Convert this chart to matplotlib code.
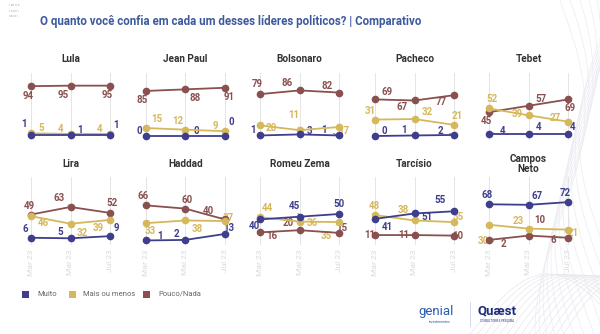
import matplotlib
matplotlib.use("Agg")
import matplotlib.pyplot as plt
import numpy as np

plt.rcParams['font.family'] = ['Roboto', 'DejaVu Sans']

W, H = 600, 334
DPI = 100

periods = ["Mar 23", "Mai 23", "Jul 23"]
series_names = ["Muito", "Mais ou menos", "Pouco/Nada"]
colors = {"Muito": "#3f3e8c", "Mais ou menos": "#d6b85c", "Pouco/Nada": "#8a5050"}

leaders = ["Lula", "Jean Paul", "Bolsonaro", "Pacheco", "Tebet",
           "Lira", "Haddad", "Romeu Zema", "Tarcísio", "Campos\nNeto"]

muito = {
    "Lula": [1, 1, 1], "Jean Paul": [0, 0, 0], "Bolsonaro": [1, 3, 1],
    "Pacheco": [0, 1, 2], "Tebet": [4, 4, 4], "Lira": [6, 5, 9],
    "Haddad": [1, 2, 13], "Romeu Zema": [40, 45, 50], "Tarcísio": [41, 51, 55],
    "Campos\nNeto": [68, 67, 72],
}
mais = {
    "Lula": [5, 4, 4], "Jean Paul": [15, 12, 9], "Bolsonaro": [20, 11, 17],
    "Pacheco": [31, 32, 21], "Tebet": [52, 39, 27], "Lira": [46, 32, 39],
    "Haddad": [33, 38, 37], "Romeu Zema": [44, 36, 35], "Tarcísio": [48, 38, 35],
    "Campos\nNeto": [30, 23, 21],
}
pouco = {
    "Lula": [94, 95, 95], "Jean Paul": [85, 88, 91], "Bolsonaro": [79, 86, 82],
    "Pacheco": [69, 67, 77], "Tebet": [45, 57, 69], "Lira": [49, 63, 52],
    "Haddad": [66, 60, 40], "Romeu Zema": [16, 20, 15], "Tarcísio": [11, 11, 10],
    "Campos\nNeto": [2, 10, 6],
}
data = {"Muito": muito, "Mais ou menos": mais, "Pouco/Nada": pouco}

# label offsets in pixels (dx right, dy down), and whether a leader line is drawn
M, S, P = "Muito", "Mais ou menos", "Pouco/Nada"
label_off = {
    "Lula": {P: [(-3, 10), (-7, 9), (-3, 9)], M: [(-7, -11, 1), (10, -5), (6, -10, 1)],
             S: [(10, -5), (-10, -5), (-10, -5)]},
    "Jean Paul": {P: [(-4, 9), (10, 9, 1), (4, 9)], S: [(11, -9, 1), (-7, -9), (-9, -5)],
                  M: [(-6, -5), (11, -5), (7, -14, 1)]},
    "Bolsonaro": {P: [(-3, -10), (-12, -7), (-12, -7)], S: [(11, 3), (-6, -15, 1), (5, 4)],
                  M: [(-7, -5), (10, -3), (-15, -5, 1)]},
    "Pacheco": {P: [(12, -7), (-12, 7, 1), (-13, 7)], S: [(-5, -9), (13, -7, 1), (3, -9)],
                M: [(9, -5), (-10, -5), (-14, -4, 1)]},
    "Tebet": {P: [(-3, 9), (13, -7), (2, 9)], S: [(3, -9), (-11, -1), (-13, -4)],
              M: [(14, -3, 1), (10, -7), (5, -7)]},
    "Lira": {P: [(-2, -9), (-11, -9, 1), (2, -10)], S: [(12, 7), (12, 9), (-12, 8)],
             M: [(-6, -9), (-10, -6), (6, -8)]},
    "Haddad": {P: [(-3, -9), (2, -9), (-16, -8, 1)], S: [(5, 8), (12, 9), (4, -3)],
               M: [(14, -4, 1), (-9, -6), (4, -6)]},
    "Romeu Zema": {M: [(-6, 7), (-5, -11, 1), (0, -10)], S: [(7, -9), (13, 1), (-13, 14, 1)],
                   P: [(12, 4), (-11, -7), (3, -5)]},
    "Tarcísio": {S: [(-1, -9), (-11, -10), (4, -5)], M: [(12, 8), (12, 4), (-14, -11, 1)],
                 P: [(-5, 0), (-11, 0), (4, 0)]},
    "Campos\nNeto": {M: [(-2, -9), (9, -9), (-3, -9)], S: [(-6, 16), (-10, -8), (5, 3)],
                     P: [(14, 4, 1), (11, -16, 1), (-15, 2)]},
}

fig = plt.figure(figsize=(W / DPI, H / DPI), dpi=DPI)
fig.patch.set_facecolor("white")

# decorative background curves (right side)
deco = fig.add_axes([0, 0, 1, 1], zorder=-5)
deco.set_xlim(0, W); deco.set_ylim(H, 0); deco.axis("off")
t = np.linspace(0, 1, 200)
for k in range(14):
    xs = 470 + 140 * t + 6 * k
    ys = 334 - 60 * np.sin(np.pi * t * 0.9) * (1 + k * 0.03) + k * 2
    deco.plot(xs, ys, color="#e6e7ee", lw=0.5)
for k in range(12):
    ys = np.linspace(0, 334, 200)
    xs = 560 + 25 * np.sin(ys / 70 + k * 0.25) + k * 4
    deco.plot(xs, ys, color="#ebecf2", lw=0.5)

# title
fig.text(40 / W, 1 - 22 / H, "O quanto você confia em cada um desses líderes políticos? | Comparativo",
         fontsize=8.3, fontweight="bold", color="#3d5a9c", va="center", ha="left")
for i, s in enumerate(["ı ıııı ıı ıı", "ı ıı ıııı ı", "ıııı ııı ı"]):
    fig.text(9 / W, 1 - (5 + 5.5 * i) / H, s, fontsize=2.5, color="#9aa0b5", va="center")

col_first = [31, 145.7, 260, 375, 489]
step = 39.5
sc = [0.53, 0.54]
zero_y = [136, 241]
title_y = [59, 164]
ylo, yhi = -8, 118

for idx, name in enumerate(leaders):
    r, c = divmod(idx, 5)
    x0 = col_first[c] - 0.35 * step
    width = 2.7 * step
    bottom_px = zero_y[r] - ylo * sc[r]
    height = (yhi - ylo) * sc[r]
    ax = fig.add_axes([x0 / W, 1 - bottom_px / H, width / W, height / H])
    ax.set_xlim(-0.35, 2.35)
    ax.set_ylim(ylo, yhi)
    ax.patch.set_alpha(0)
    for sp in ax.spines.values():
        sp.set_visible(False)
    ax.set_yticks([])
    ax.set_xticks(range(3))
    for xv in range(3):
        ax.axvline(xv, color="#e4e4e4", lw=0.7, zorder=0)
    if r == 1:
        ax.set_xticklabels(periods, rotation=90, fontsize=6, color="#dadada")
        ax.tick_params(axis="x", length=0, pad=3)
    else:
        ax.set_xticklabels([])
        ax.tick_params(axis="x", length=0)
    xs = np.arange(3)
    for sname in [P, S, M]:
        vals = data[sname][name]
        col = colors[sname]
        ax.plot(xs, vals, color=col, lw=1.3, marker="o", ms=4.5, zorder=3)
        for i, v in enumerate(vals):
            off = label_off[name][sname][i]
            dx, dy = off[0], off[1]
            ap = None
            if len(off) > 2:
                ap = dict(arrowstyle="-", color=col, lw=0.6, shrinkA=3, shrinkB=2)
            ax.annotate(str(v), (i, v), xytext=(dx, -dy), textcoords="offset pixels",
                        ha="center", va="center", fontsize=7, fontweight="bold", color=col,
                        arrowprops=ap, zorder=2, annotation_clip=False)
    cx = col_first[c] + step
    fig.text(cx / W, 1 - title_y[r] / H, name, ha="center", va="center", fontsize=7.2,
             fontweight="bold", color="#333333", linespacing=1.1)

# legend
leg = [(25, 37, M), (72, 83, S), (146, 158, P)]
for sx, tx, nm in leg:
    fig.patches.append(plt.Rectangle(((sx - 3.5) / W, 1 - (294 + 3.5) / H), 7 / W, 7 / H,
                                     transform=fig.transFigure, color=colors[nm], lw=0))
    fig.text(tx / W, 1 - 294 / H, nm, fontsize=5.5, color="#666666", va="center", ha="left")

# logos
fig.text(418 / W, 1 - 312 / H, "genial", fontsize=9.5, color="#2a5bb0", va="center", ha="left")
fig.text(440 / W, 1 - 322 / H, "investimentos", fontsize=2.5, color="#2a5bb0", va="center", ha="center")
deco.plot([470, 470], [302, 326], color="#c9d3e6", lw=0.6)
fig.text(478 / W, 1 - 311 / H, "Quæst", fontsize=9.5, fontweight="bold", color="#1d2d7a", va="center", ha="left")
fig.text(497 / W, 1 - 321 / H, "CONSULTORIA E PESQUISA", fontsize=2, color="#1d2d7a", va="center", ha="center")

fig.savefig("out.png", dpi=DPI)
